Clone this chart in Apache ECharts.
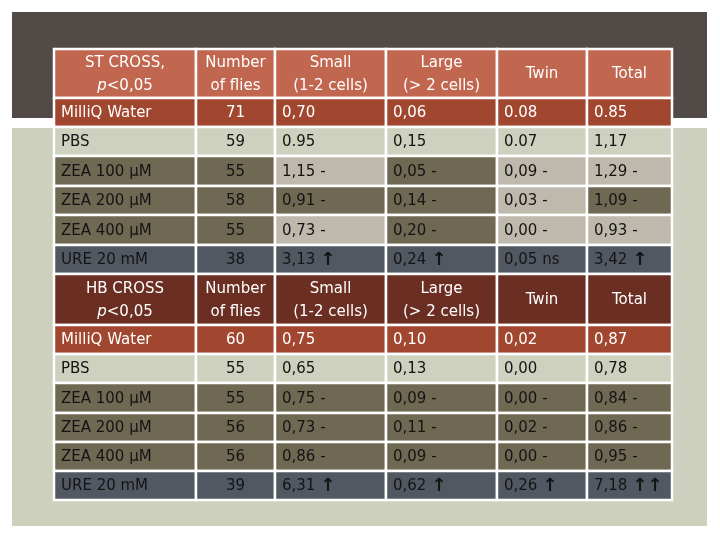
<!DOCTYPE html>
<html>
<head>
<meta charset="utf-8">
<script src="https://cdn.jsdelivr.net/npm/echarts@6/dist/echarts.min.js"></script>
<style>
  html, body { margin: 0; padding: 0; background: #fff; }
  #main { width: 720px; height: 540px; }
</style>
</head>
<body>
<div id="main"></div>
<script>
// table contents
const crossTitles = ['ST CROSS,\n{i|p}<0,05', 'HB CROSS\n{i|p}<0,05'];
const treatments = ['MilliQ Water', 'PBS', 'ZEA 100 µM', 'ZEA 200 µM', 'ZEA 400 µM', 'URE 20 mM'];
const columnHeaders = ['Number\nof flies', 'Small\n(1-2 cells)', 'Large\n(> 2 cells)', 'Twin', 'Total'];

const stFlies = ['71', '59', '55', '58', '55', '38'];
const stSmall = ['0,70', '0.95', '1,15 -', '0,91 -', '0,73 -', '3,13 ↑'];
const stLarge = ['0,06', '0,15', '0,05 -', '0,14 -', '0,20 -', '0,24 ↑'];
const stTwin = ['0.08', '0.07', '0,09 -', '0,03 -', '0,00 -', '0,05 ns'];
const stTotal = ['0.85', '1,17', '1,29 -', '1,09 -', '0,93 -', '3,42 ↑'];

const hbFlies = ['60', '55', '55', '56', '56', '39'];
const hbSmall = ['0,75', '0,65', '0,75 -', '0,73 -', '0,86 -', '6,31 ↑'];
const hbLarge = ['0,10', '0,13', '0,09 -', '0,11 -', '0,09 -', '0,62 ↑'];
const hbTwin = ['0,02', '0,00', '0,00 -', '0,02 -', '0,00 -', '0,26 ↑'];
const hbTotal = ['0,87', '0,78', '0,84 -', '0,86 -', '0,95 -', '7,18 ↑↑'];

// layout (cell sizes in px units of the value axes)
const colWidths = [142, 79, 111, 111, 90, 85];
const rowHeights = [49, 29, 29, 30, 29, 30, 29, 51, 29, 29, 30, 29, 29, 29];
// light cells in the ST cross ZEA rows (column indexes)
const stLightCells = [[2, 4, 5], [4], [2, 4, 5]];

const colEdges = [0];
colWidths.forEach(w => colEdges.push(colEdges[colEdges.length - 1] + w));
const rowEdges = [0];
rowHeights.forEach(h => rowEdges.push(rowEdges[rowEdges.length - 1] + h));

const sections = [
  [stFlies, stSmall, stLarge, stTwin, stTotal],
  [hbFlies, hbSmall, hbLarge, hbTwin, hbTotal]
];

const cells = [];   // parallel info for every cell
const data = [];
sections.forEach((cols, s) => {
  for (let r = 0; r <= treatments.length; r++) {
    for (let c = 0; c < colWidths.length; c++) {
      let text;
      if (r === 0) text = c === 0 ? crossTitles[s] : columnHeaders[c - 1];
      else text = c === 0 ? treatments[r - 1] : cols[c - 1][r - 1];
      const gr = s * (treatments.length + 1) + r;
      cells.push({ s, r, c, text });
      data.push([c, gr]);
    }
  }
});

function cellFill(s, r, c) {
  if (r === 0) return s === 0 ? '#C1664F' : '#6B2E22';
  if (r === 1) return '#A1472F';
  if (r === 2) return '#CDD1BE';
  if (r === 6) return '#525861';
  if (s === 0 && stLightCells[r - 3].indexOf(c) >= 0) return '#BEB9AC';
  return '#6F6853';
}

const chart = echarts.init(document.getElementById('main'));
chart.setOption({
  animation: false,
  backgroundColor: '#ffffff',
  graphic: [
    { type: 'rect', shape: { x: 12, y: 12, width: 695, height: 106 }, style: { fill: '#524A47' }, z: -10 },
    { type: 'rect', shape: { x: 12, y: 128, width: 695, height: 398 }, style: { fill: '#CCD0BC' }, z: -10 }
  ],
  grid: { left: 54, top: 49, width: 618, height: 451 },
  xAxis: { type: 'value', min: 0, max: colEdges[colEdges.length - 1], show: false },
  yAxis: { type: 'value', min: 0, max: rowEdges[rowEdges.length - 1], inverse: true, show: false },
  series: [{
    type: 'custom',
    coordinateSystem: 'cartesian2d',
    encode: { x: 0, y: 1 },
    data: data,
    renderItem: function (params, api) {
      const c = api.value(0);
      const gr = api.value(1);
      const info = cells[params.dataIndex];
      const p0 = api.coord([colEdges[c], rowEdges[gr]]);
      const p1 = api.coord([colEdges[c + 1], rowEdges[gr + 1]]);
      const w = p1[0] - p0[0];
      const h = p1[1] - p0[1];
      const header = info.r === 0;
      const centered = header || c === 1;
      const tx = centered ? p0[0] + w / 2 : p0[0] + 7;
      const color = info.r <= 1 ? '#ffffff' : '#141414';
      const text = info.text.replace(' ↑↑', ' {a|↑↑}').replace(' ↑', ' {a|↑}');
      return {
        type: 'group',
        children: [
          {
            type: 'rect',
            shape: { x: p0[0], y: p0[1], width: w, height: h },
            style: { fill: cellFill(info.s, info.r, c), stroke: '#ffffff', lineWidth: 2.5 }
          },
          {
            type: 'text',
            style: {
              x: tx,
              y: p0[1] + h / 2 + 1,
              text: text,
              align: centered ? 'center' : 'left',
              verticalAlign: 'middle',
              fill: color,
              fontFamily: 'DejaVu Sans',
              fontSize: 15,
              lineHeight: 23,
              rich: {
                i: { fontStyle: 'italic', fontFamily: 'DejaVu Sans', fontSize: 15, lineHeight: 23, fill: color },
                a: { fontFamily: 'DejaVu Sans', fontWeight: 'bold', fontSize: 18, lineHeight: 23, fill: color }
              }
            }
          }
        ]
      };
    }
  }]
});
</script>
</body>
</html>
